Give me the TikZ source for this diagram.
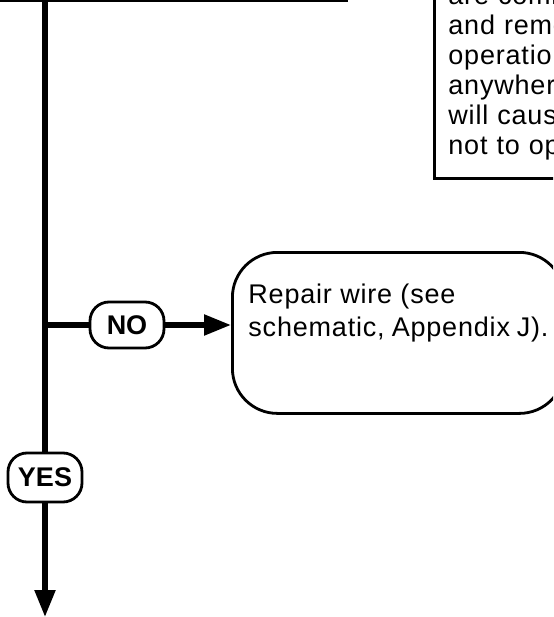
\documentclass[tikz,border=0pt]{standalone}
\usepackage{fontspec}
\setmainfont{Liberation Sans}
\newfontfamily\txtfont[LetterSpace=3]{Liberation Sans}
\usetikzlibrary{arrows.meta}
\begin{document}
\begin{tikzpicture}[x=1pt,y=-1pt,
  boxline/.style={draw=black,line width=2.8pt},
  flowline/.style={draw=black,line width=5.3pt},
  tagbox/.style={boxline,fill=white,rounded corners=19pt,inner sep=0pt,
    font=\fontsize{27}{30}\selectfont\bfseries},
  bigarrow/.style={-{Triangle[length=27pt,width=20pt]}}
]
\useasboundingbox (0,0) rectangle (553,617);
\clip (0,0) rectangle (553,617);
% previous (cut-off) box
\node[boxline,minimum width=400pt,minimum height=80pt,anchor=south east] (prev) at (348,2) {};
% note box at top right
\node[boxline,anchor=south west,inner xsep=14pt,inner ysep=18pt,text width=200pt,align=left,
  font=\txtfont\fontsize{27}{30}\selectfont] (note) at (433,180)
  {are common\\and remove\\operation\\anywhere\\will cause\\not to operate};
% decision labels
\node[tagbox,minimum width=74pt,minimum height=46pt] (no) at (127,325) {NO};
\node[tagbox,minimum width=74pt,minimum height=49pt] (yes) at (45,477.5) {YES};
% repair box
\node[boxline,rounded corners=45pt,anchor=north west,inner xsep=16pt,inner ysep=0pt] (repair) at (231,251)
  {\parbox[t][161pt][t]{300pt}{\txtfont\fontsize{27}{33}\selectfont\vspace*{32pt}Repair wire (see\\schematic, Appendix J).}};
\coordinate (branch) at (45,325);
\coordinate (down) at (45,617);
% connectors
\draw[flowline] (prev.south -| yes.north) -- (yes.north);
\draw[flowline,bigarrow] (yes.south) -- (down);
\draw[flowline] (branch) -- (no.west);
\draw[flowline,bigarrow] (no.east) -- (no.east -| repair.west);
\end{tikzpicture}
\end{document}
